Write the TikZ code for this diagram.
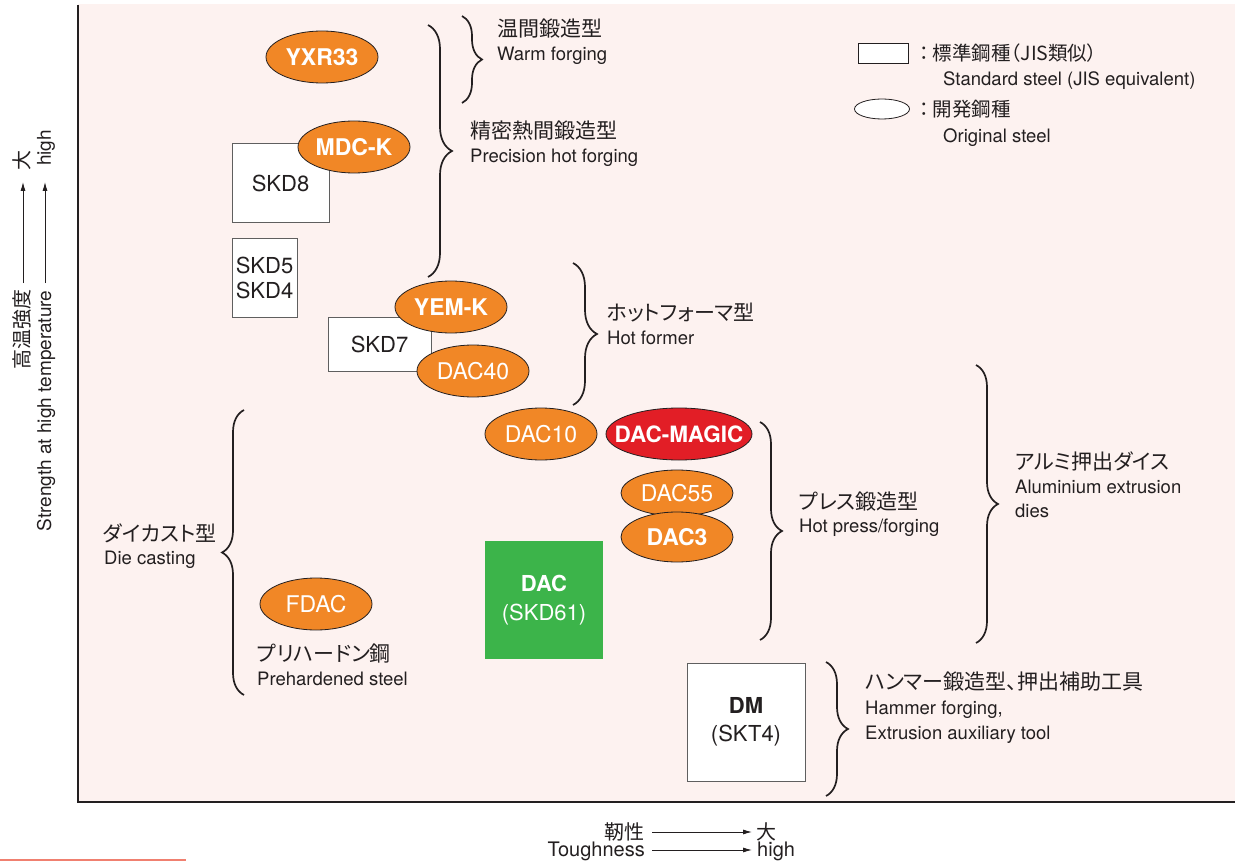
\documentclass[tikz,border=0pt]{standalone}
\usepackage{fontspec}
\setmainfont{TeX Gyre Heros}
\newfontfamily\jp[RawFeature={+palt}]{Noto Sans CJK JP}
\usetikzlibrary{shapes.geometric,decorations.pathreplacing,arrows.meta}
\definecolor{bgpink}{RGB}{253,242,240}
\definecolor{dorange}{RGB}{241,135,38}
\definecolor{dred}{RGB}{226,30,38}
\definecolor{dgreen}{RGB}{60,180,74}
\definecolor{boxline}{RGB}{95,95,95}
\definecolor{ink}{RGB}{35,31,32}
\definecolor{salmon}{RGB}{240,128,112}
\begin{document}
\begin{tikzpicture}[x=1pt,y=-1pt,
 oval/.style={ellipse, draw=ink, line width=0.8pt, fill=dorange, text=white,
   minimum width=112pt, minimum height=52pt, inner xsep=-22pt, inner ysep=-6pt,
   font=\fontsize{23}{26}\selectfont},
 boldoval/.style={oval, font=\fontsize{23}{26}\selectfont\bfseries},
 steelbox/.style={draw=boxline, line width=1pt, fill=white, inner sep=0pt,
   text=ink, font=\fontsize{22}{25}\selectfont, align=center},
 brc/.style={decorate, decoration={brace, amplitude=#1}, line width=1.7pt, draw=ink},
 brc/.default=22pt,
 jplabel/.style={anchor=base west, inner sep=0pt, text=ink, font=\jp\fontsize{21}{24}\selectfont},
 enlabel/.style={anchor=base west, inner sep=0pt, text=ink, font=\fontsize{18.5}{22}\selectfont},
 axarrow/.style={-{Latex[length=9pt,width=5pt]}, line width=0.8pt, draw=ink},
]
\useasboundingbox (0,0) rectangle (1237,861);
% background and axes
\fill[bgpink] (78,4) rectangle (1235,802);
\draw[line width=1.5pt, ink] (78,5) -- (78,802) -- (1235,802);
\draw[salmon, line width=1.2pt] (0,860) -- (186,860);

% standard steel boxes
\node[steelbox, minimum width=97pt, minimum height=79pt] (skd8) at (280.5,183.5) {SKD8};
\node[steelbox, minimum width=65pt, minimum height=78pt] (skd54) at (264.5,278) {SKD5\\SKD4};
\node[steelbox, minimum width=103pt, minimum height=54pt] (skd7) at (379.5,344) {SKD7};
\node[steelbox, fill=dgreen, draw=none, text=white, minimum width=118pt, minimum height=118pt,
  font=\fontsize{22}{29}\selectfont] (dac) at (544,600) {\textbf{DAC}\\(SKD61)};
\node[steelbox, minimum width=118pt, minimum height=118pt,
  font=\fontsize{22}{28}\selectfont] (dm) at (746,722) {\textbf{DM}\\(SKT4)};

% developed steel ovals
\node[boldoval] (yxr) at (322,57) {YXR33};
\node[boldoval] (mdck) at (354,147) {MDC-K};
\node[boldoval] (yemk) at (451,307) {YEM-K};
\node[oval] (dac40) at (473,371) {DAC40};
\node[oval] (dac10) at (541,434) {DAC10};
\node[boldoval, fill=dred, minimum width=146pt, inner xsep=-30pt,
  font=\fontsize{22.5}{26}\selectfont\bfseries] (magic) at (679,434) {DAC-MAGIC};
\node[oval, minimum height=46pt] (dac55) at (677,493) {DAC55};
\node[boldoval, minimum height=50pt] (dac3) at (677,537) {DAC3};
\node[oval] (fdac) at (316,604) {FDAC};

% braces
\coordinate (b1a) at (462,16);  \coordinate (b1b) at (462,103);
\coordinate (b2a) at (428,25);  \coordinate (b2b) at (428,277);
\coordinate (b3a) at (573,263); \coordinate (b3b) at (573,405);
\coordinate (b4a) at (244,695); \coordinate (b4b) at (244,410);
\coordinate (b5a) at (760,422); \coordinate (b5b) at (760,640);
\coordinate (b6a) at (976,365); \coordinate (b6b) at (976,643);
\coordinate (b7a) at (826,662); \coordinate (b7b) at (826,796);
\draw[brc=20pt] (b1a) -- (b1b);
\draw[brc=24pt] (b2a) -- (b2b);
\draw[brc=24pt] (b3a) -- (b3b);
\draw[brc=22pt] (b4a) -- (b4b);
\draw[brc=22pt] (b5a) -- (b5b);
\draw[brc=22pt] (b6a) -- (b6b);
\draw[brc=22pt] (b7a) -- (b7b);

% group labels
\node[jplabel] (t1j) at (497,37) {温間鍛造型};
\node[enlabel] (t1e) at (497,61) {Warm forging};
\node[jplabel] (t2j) at (470,139) {精密熱間鍛造型};
\node[enlabel] (t2e) at (470,163) {Precision hot forging};
\node[jplabel] (t3j) at (607,320) {ホットフォーマ型};
\node[enlabel] (t3e) at (607,344) {Hot former};
\node[jplabel] (t4j) at (103,541) {ダイカスト型};
\node[enlabel] (t4e) at (104,564) {Die casting};
\node[jplabel] (t5j) at (799,509) {プレス鍛造型};
\node[enlabel] (t5e) at (799,532) {Hot press/forging};
\node[jplabel] (t6j) at (1015,469) {アルミ押出ダイス};
\node[enlabel] (t6e) at (1015,493) {Aluminium extrusion};
\node[enlabel] (t6f) at (1015,517) {dies};
\node[jplabel] (t7j) at (257,661) {プリハードン鋼};
\node[enlabel] (t7e) at (257,685) {Prehardened steel};
\node[jplabel] (t8j) at (865,689) {ハンマー鍛造型、押出補助工具};
\node[enlabel] (t8e) at (865,714) {Hammer forging,};
\node[enlabel] (t8f) at (865,739) {Extrusion auxiliary tool};

% legend
\node[draw=ink, line width=0.8pt, fill=white, minimum width=50pt, minimum height=20pt, inner sep=0pt] (lgbox) at (883,53) {};
\node[ellipse, draw=ink, line width=0.8pt, fill=white, minimum width=55pt, minimum height=20pt, inner sep=0pt] (lgoval) at (882,109) {};
\node[jplabel, font=\jp\fontsize{19.5}{22}\selectfont] (lg1j) at (919,61) {：\hspace{4pt}標準鋼種（JIS類似）};
\node[enlabel, font=\fontsize{18.5}{20}\selectfont] (lg1e) at (943,86) {Standard steel (JIS equivalent)};
\node[jplabel, font=\jp\fontsize{19.5}{22}\selectfont] (lg2j) at (919,117) {：\hspace{4pt}開発鋼種};
\node[enlabel, font=\fontsize{18.5}{20}\selectfont] (lg2e) at (943,143) {Original steel};

% vertical axis label
\node[rotate=90, inner sep=0pt, text=ink, font=\jp\fontsize{20}{22}\selectfont] (yj) at (22,329) {高温強度};
\node[rotate=90, inner sep=0pt, text=ink, font=\jp\fontsize{20}{22}\selectfont] (yjh) at (22,161) {大};
\node[rotate=90, inner sep=0pt, text=ink, font=\fontsize{19}{22}\selectfont] (ye) at (46,411) {Strength at high temperature};
\node[rotate=90, inner sep=0pt, text=ink, font=\fontsize{19}{22}\selectfont] (yeh) at (46,148) {high};
\coordinate (yja) at (23,283); \coordinate (yjb) at (23,182);
\coordinate (yea) at (45,283); \coordinate (yeb) at (45,182);
\draw[axarrow] (yja) -- (yjb);
\draw[axarrow] (yea) -- (yeb);

% horizontal axis label
\node[anchor=base east, inner sep=0pt, text=ink, font=\jp\fontsize{20}{22}\selectfont] (xj) at (645,839) {靭性};
\node[anchor=base west, inner sep=0pt, text=ink, font=\jp\fontsize{20}{22}\selectfont] (xjh) at (756,839) {大};
\node[anchor=base east, inner sep=0pt, text=ink, font=\fontsize{20}{22}\selectfont] (xe) at (645,856) {Toughness};
\node[anchor=base west, inner sep=0pt, text=ink, font=\fontsize{20}{22}\selectfont] (xeh) at (757,856) {high};
\coordinate (xja) at (652,832); \coordinate (xjb) at (752,832);
\coordinate (xea) at (652,850); \coordinate (xeb) at (752,850);
\draw[axarrow] (xja) -- (xjb);
\draw[axarrow] (xea) -- (xeb);
\end{tikzpicture}
\end{document}
